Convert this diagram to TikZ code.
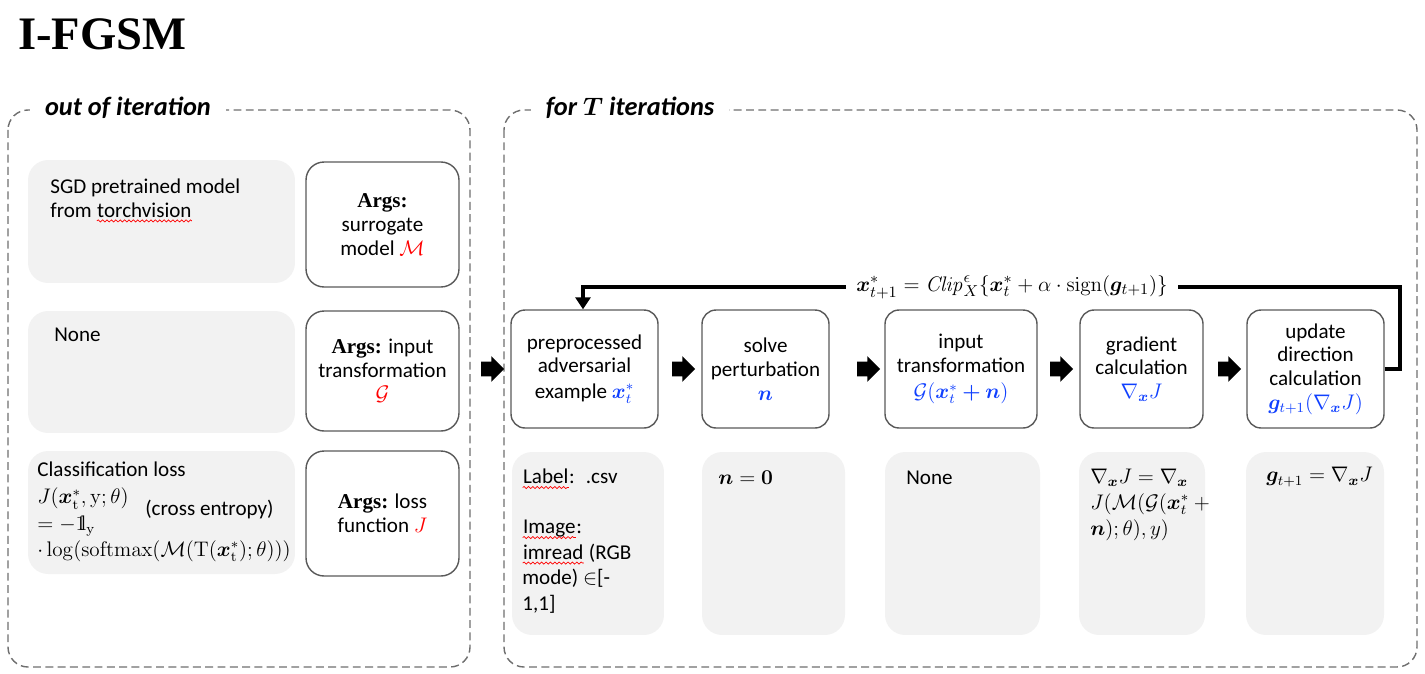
\documentclass[tikz,border=0pt]{standalone}
\usepackage{amsmath,bm}
\usepackage[no-math]{fontspec}
\setmainfont{Carlito}
\newfontfamily\argsfont{Liberation Serif}
\usetikzlibrary{shapes.arrows,arrows.meta,decorations.pathmorphing}

\definecolor{boxgray}{HTML}{F2F2F2}
\definecolor{edgegray}{HTML}{595959}
\definecolor{dashgray}{HTML}{6E6E6E}
\definecolor{mathblue}{HTML}{1040FF}

\newcommand\wavy[1]{\tikz[x=1cm,y=1cm,baseline=(w.base)]{\node[inner sep=0pt] (w) {#1};
  \draw[red,line width=0.4pt,decorate,decoration={snake,amplitude=0.6pt,segment length=2.5pt}] ([yshift=-2.2pt]w.base west) -- ([yshift=-2.2pt]w.base east);}}
\newcommand\argsb{{\argsfont\bfseries Args:}}
\newcommand\indic{\mathrm{1}\mskip-4.5mu\mathrm{l}}

\begin{document}
\begin{tikzpicture}[x=0.02cm,y=-0.02cm,
  font=\fontsize{12}{13.5}\selectfont,
  gbox/.style={fill=boxgray,rounded corners=0.4cm,inner sep=0pt},
  pbox/.style={draw=edgegray,line width=0.8pt,rounded corners=0.28cm,align=center,inner sep=0pt,minimum height=2.36cm},
  abox/.style={draw=edgegray,line width=0.8pt,rounded corners=0.36cm,align=center,inner sep=0pt,minimum width=3.06cm},
  panel/.style={draw=dashgray,line width=0.8pt,dash pattern=on 4.5pt off 2.5pt,rounded corners=0.4cm},
  ptitle/.style={fill=white,inner xsep=0.3cm,font=\fontsize{15}{17}\selectfont\bfseries\itshape},
  blk/.style={single arrow,fill=black,inner xsep=0pt,inner ysep=0.14cm,minimum height=0.46cm,single arrow head extend=0.11cm,single arrow head indent=0pt},
  txt/.style={anchor=west,inner sep=0pt,align=left}]
\useasboundingbox (0,0) rectangle (1425,673);

\node[anchor=north west,inner sep=0pt,font=\argsfont\bfseries\fontsize{26.5}{30}\selectfont] (title) at (18,18) {I-FGSM};

% dashed panels
\draw[panel] (8,110) rectangle (470,667);
\node[ptitle] (outt) at (128,108) {out of iteration};
\draw[panel] (504,110) rectangle (1417,667);
\node[ptitle] (fort) at (630,108) {for $\bm{T}$ iterations};

% out of iteration
\node[gbox,minimum width=5.34cm,minimum height=2.46cm] (sgd) at (161.5,221.5) {};
\node[gbox,minimum width=5.34cm,minimum height=2.44cm] (gnone) at (161.5,372) {};
\node[gbox,minimum width=5.34cm,minimum height=2.46cm] (loss) at (161.5,512.5) {};
\node[txt] (sgdtxt) at (50,200.5) {SGD pretrained model\\from \wavy{torchvision}};
\node[txt] (gnonetxt) at (54,335) {None};
\node[txt] (clstxt) at (37,469) {Classification loss};
\node[txt] (jtxt) at (37,525) {$J(\bm{x}^*_{\mathrm{t}},\mathrm{y};\theta)$\\[1.5pt]$=-\indic_{\mathrm{y}}$\\[1.5pt]$\cdot\log(\mathrm{softmax}(\mathcal{M}(\mathrm{T}(\bm{x}^*_{\mathrm{t}});\theta)))$};
\node[txt] (cetxt) at (145,509) {(cross entropy)};

\node[abox,minimum height=2.5cm] (amodel) at (382.5,224.5) {\argsb\\surrogate\\model $\color{red}\mathcal{M}$};
\node[abox,minimum height=2.4cm] (atrans) at (382.5,371) {\argsb{} input\\transformation\\$\color{red}\mathcal{G}$};
\node[abox,minimum height=2.5cm] (aloss) at (382.5,513.5) {\argsb{} loss\\function $\color{red}J$};

% for T iterations
\node[pbox,minimum width=2.94cm] (prep) at (584.5,369) {preprocessed\\adversarial\\[1pt]example $\color{mathblue}\bm{x}^*_t$};
\node[pbox,minimum width=2.54cm] (solve) at (765.5,369) {solve\\perturbation\\$\color{mathblue}\bm{n}$};
\node[pbox,minimum width=3.04cm] (trans) at (961,369) {input\\transformation\\[1.5pt]$\color{mathblue}\mathcal{G}(\bm{x}^*_t\bm{+}\bm{n})$};
\node[pbox,minimum width=2.46cm] (grad) at (1141.5,369) {gradient\\calculation\\$\color{mathblue}\nabla_{\bm{x}}J$};
\node[pbox,minimum width=2.74cm] (upd) at (1315.5,369) {update\\direction\\calculation\\$\color{mathblue}\bm{g}_{t+1}(\nabla_{\bm{x}}J)$};

\node[blk] (ar0) at (489,369) {};
\node[blk] (ar1) at (680,369) {};
\node[blk] (ar2) at (865,369) {};
\node[blk] (ar3) at (1058,369) {};
\node[blk] (ar4) at (1226,369) {};

% feedback
\coordinate (lr) at (1400,369);
\coordinate (ltr) at (1400,287);
\coordinate (ltl) at (583,287);
\draw[line width=2.8pt,-{Triangle[length=0.24cm,width=0.3cm]}] (upd.east) -- (lr) -- (ltr) -- (ltl) -- (ltl |- prep.north);
\node[fill=white,inner xsep=0.2cm,font=\fontsize{12.5}{14}\selectfont] (clip) at (1012,287) {$\bm{x}^*_{t+1}=\mathit{Clip}^{\epsilon}_{X}\{\bm{x}^*_t+\alpha\cdot\mathrm{sign}(\bm{g}_{t+1})\}$};

% settings
\node[gbox,minimum width=3.04cm,minimum height=3.66cm] (lab) at (588,543.5) {};
\node[gbox,minimum width=2.86cm,minimum height=3.66cm] (nz) at (773.5,543.5) {};
\node[gbox,minimum width=3.1cm,minimum height=3.66cm] (tnone) at (962.5,543.5) {};
\node[gbox,minimum width=2.52cm,minimum height=3.66cm] (gdef) at (1142,543.5) {};
\node[gbox,minimum width=2.76cm,minimum height=3.66cm] (gupd) at (1315,543.5) {};

\node[txt] (labtxt) at (522,541) {\wavy{Label}:~ .csv\\[15pt]\wavy{Image}:\\[1pt]\wavy{imread} (RGB\\[1pt]mode) $\in$[-\\[1pt]1,1]};
\node[txt] (nztxt) at (718,478) {$\bm{n}=\bm{0}$};
\node[txt] (tnonetxt) at (906,478) {None};
\node[txt,font=\fontsize{11.5}{13.5}\selectfont] (gdeftxt) at (1090,505) {$\nabla_{\bm{x}}J=\nabla_{\bm{x}}$\\[1.5pt]$J(\mathcal{M}(\mathcal{G}(\bm{x}^*_t+{}$\\[1.5pt]$\bm{n});\theta),y)$};
\node[txt] (gupdtxt) at (1266,477) {$\bm{g}_{t+1}=\nabla_{\bm{x}}J$};
\end{tikzpicture}
\end{document}
